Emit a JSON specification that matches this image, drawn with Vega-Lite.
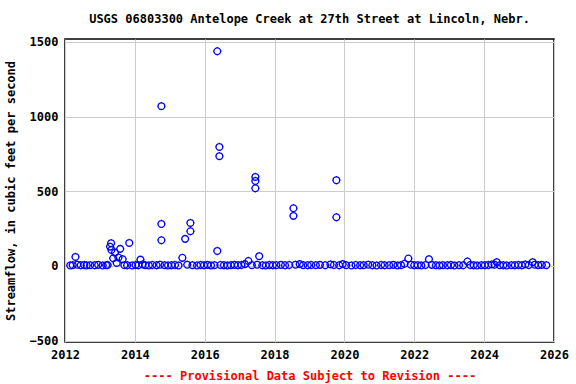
{
  "$schema": "https://vega.github.io/schema/vega-lite/v6.json",
  "width": 489,
  "height": 303,
  "autosize": {"type": "none"},
  "padding": {"left": 65, "top": 39, "right": 22, "bottom": 42},
  "background": "white",
  "title": {
    "text": "USGS 06803300 Antelope Creek at 27th Street at Lincoln, Nebr.",
    "font": "DejaVu Sans Mono",
    "fontSize": 12,
    "fontWeight": "bold",
    "color": "black",
    "anchor": "middle",
    "offset": 10
  },
  "config": {
    "view": {"stroke": "black", "strokeWidth": 1.5},
    "axis": {
      "labelFont": "DejaVu Sans Mono",
      "labelFontSize": 12,
      "labelFontWeight": "bold",
      "labelColor": "black",
      "titleFont": "DejaVu Sans Mono",
      "titleFontSize": 12,
      "titleFontWeight": "bold",
      "gridColor": "#cccccc",
      "gridWidth": 1,
      "gridOpacity": 1,
      "domain": false,
      "ticks": false,
      "labelFlush": false,
      "labelOverlap": false
    }
  },
  "data": {
    "values": [
      {"year": 2012.15, "flow": 3}, {"year": 2012.22, "flow": 5}, {"year": 2012.30, "flow": 60}, {"year": 2012.35, "flow": 8},
      {"year": 2012.45, "flow": 4}, {"year": 2012.55, "flow": 6}, {"year": 2012.62, "flow": 3}, {"year": 2012.72, "flow": 5},
      {"year": 2012.85, "flow": 4}, {"year": 2012.95, "flow": 7}, {"year": 2013.08, "flow": 3}, {"year": 2013.18, "flow": 5},
      {"year": 2013.22, "flow": 6}, {"year": 2013.29, "flow": 129}, {"year": 2013.32, "flow": 152}, {"year": 2013.33, "flow": 107},
      {"year": 2013.38, "flow": 51}, {"year": 2013.43, "flow": 89}, {"year": 2013.48, "flow": 20}, {"year": 2013.53, "flow": 56},
      {"year": 2013.58, "flow": 114}, {"year": 2013.65, "flow": 45}, {"year": 2013.70, "flow": 5}, {"year": 2013.78, "flow": 4},
      {"year": 2013.84, "flow": 154}, {"year": 2013.92, "flow": 3}, {"year": 2014.02, "flow": 6}, {"year": 2014.10, "flow": 4},
      {"year": 2014.16, "flow": 42}, {"year": 2014.22, "flow": 10}, {"year": 2014.30, "flow": 5}, {"year": 2014.40, "flow": 3},
      {"year": 2014.50, "flow": 6}, {"year": 2014.62, "flow": 4}, {"year": 2014.72, "flow": 8}, {"year": 2014.76, "flow": 1070},
      {"year": 2014.76, "flow": 281}, {"year": 2014.76, "flow": 172}, {"year": 2014.85, "flow": 5}, {"year": 2014.95, "flow": 3},
      {"year": 2015.05, "flow": 4}, {"year": 2015.15, "flow": 6}, {"year": 2015.25, "flow": 3}, {"year": 2015.36, "flow": 54},
      {"year": 2015.44, "flow": 181}, {"year": 2015.50, "flow": 8}, {"year": 2015.59, "flow": 288}, {"year": 2015.59, "flow": 232},
      {"year": 2015.65, "flow": 5}, {"year": 2015.78, "flow": 3}, {"year": 2015.88, "flow": 6}, {"year": 2015.98, "flow": 4},
      {"year": 2016.08, "flow": 7}, {"year": 2016.18, "flow": 3}, {"year": 2016.28, "flow": 5}, {"year": 2016.36, "flow": 1438},
      {"year": 2016.36, "flow": 100}, {"year": 2016.42, "flow": 797}, {"year": 2016.42, "flow": 735}, {"year": 2016.45, "flow": 6},
      {"year": 2016.55, "flow": 4}, {"year": 2016.65, "flow": 3}, {"year": 2016.75, "flow": 5}, {"year": 2016.85, "flow": 7},
      {"year": 2016.95, "flow": 4}, {"year": 2017.05, "flow": 6}, {"year": 2017.15, "flow": 12}, {"year": 2017.25, "flow": 33},
      {"year": 2017.35, "flow": 5}, {"year": 2017.45, "flow": 596}, {"year": 2017.45, "flow": 569}, {"year": 2017.45, "flow": 520},
      {"year": 2017.50, "flow": 8}, {"year": 2017.56, "flow": 65}, {"year": 2017.65, "flow": 4}, {"year": 2017.75, "flow": 3},
      {"year": 2017.85, "flow": 6}, {"year": 2017.95, "flow": 4}, {"year": 2018.05, "flow": 5}, {"year": 2018.18, "flow": 7},
      {"year": 2018.30, "flow": 4}, {"year": 2018.42, "flow": 6}, {"year": 2018.54, "flow": 386}, {"year": 2018.54, "flow": 335},
      {"year": 2018.60, "flow": 8}, {"year": 2018.72, "flow": 12}, {"year": 2018.82, "flow": 5}, {"year": 2018.95, "flow": 4},
      {"year": 2019.05, "flow": 6}, {"year": 2019.18, "flow": 5}, {"year": 2019.30, "flow": 7}, {"year": 2019.45, "flow": 4},
      {"year": 2019.60, "flow": 10}, {"year": 2019.70, "flow": 6}, {"year": 2019.77, "flow": 574}, {"year": 2019.77, "flow": 326},
      {"year": 2019.85, "flow": 4}, {"year": 2019.95, "flow": 12}, {"year": 2020.05, "flow": 5}, {"year": 2020.20, "flow": 3},
      {"year": 2020.32, "flow": 6}, {"year": 2020.45, "flow": 4}, {"year": 2020.55, "flow": 5}, {"year": 2020.68, "flow": 8},
      {"year": 2020.80, "flow": 4}, {"year": 2020.92, "flow": 3}, {"year": 2021.05, "flow": 6}, {"year": 2021.15, "flow": 4},
      {"year": 2021.28, "flow": 5}, {"year": 2021.40, "flow": 7}, {"year": 2021.52, "flow": 3}, {"year": 2021.62, "flow": 5},
      {"year": 2021.72, "flow": 14}, {"year": 2021.83, "flow": 49}, {"year": 2021.90, "flow": 8}, {"year": 2022.00, "flow": 4},
      {"year": 2022.10, "flow": 5}, {"year": 2022.20, "flow": 3}, {"year": 2022.32, "flow": 6}, {"year": 2022.42, "flow": 45},
      {"year": 2022.50, "flow": 7}, {"year": 2022.62, "flow": 4}, {"year": 2022.72, "flow": 3}, {"year": 2022.82, "flow": 5},
      {"year": 2022.95, "flow": 4}, {"year": 2023.05, "flow": 6}, {"year": 2023.15, "flow": 3}, {"year": 2023.28, "flow": 5},
      {"year": 2023.40, "flow": 4}, {"year": 2023.52, "flow": 29}, {"year": 2023.60, "flow": 6}, {"year": 2023.70, "flow": 4},
      {"year": 2023.80, "flow": 3}, {"year": 2023.92, "flow": 5}, {"year": 2024.02, "flow": 4}, {"year": 2024.12, "flow": 6},
      {"year": 2024.22, "flow": 10}, {"year": 2024.30, "flow": 8}, {"year": 2024.36, "flow": 25}, {"year": 2024.45, "flow": 5},
      {"year": 2024.55, "flow": 4}, {"year": 2024.65, "flow": 3}, {"year": 2024.78, "flow": 5}, {"year": 2024.88, "flow": 4},
      {"year": 2024.98, "flow": 6}, {"year": 2025.08, "flow": 4}, {"year": 2025.18, "flow": 10}, {"year": 2025.28, "flow": 6},
      {"year": 2025.39, "flow": 25}, {"year": 2025.45, "flow": 8}, {"year": 2025.55, "flow": 5}, {"year": 2025.65, "flow": 7},
      {"year": 2025.78, "flow": 5}
    ]
  },
  "mark": {
    "type": "point",
    "shape": "M0.8,0A0.8,0.8 0 1,1 -0.8,0A0.8,0.8 0 1,1 0.8,0ZM1,0H0.8M-1,0H-0.8M0,1V0.8M0,-1V-0.8",
    "filled": false,
    "stroke": "#0000ff",
    "strokeWidth": 1.3,
    "size": 70,
    "opacity": 1
  },
  "encoding": {
    "x": {
      "field": "year",
      "type": "quantitative",
      "scale": {"domain": [2012, 2026], "nice": false, "zero": false},
      "axis": {
        "values": [2012, 2014, 2016, 2018, 2020, 2022, 2024, 2026],
        "format": "d",
        "labelPadding": 7,
        "title": "---- Provisional Data Subject to Revision ----",
        "titleColor": "#ff0000",
        "titlePadding": 10
      }
    },
    "y": {
      "field": "flow",
      "type": "quantitative",
      "scale": {"domain": [-510, 1520], "nice": false, "zero": false},
      "axis": {
        "values": [-500, 0, 500, 1000, 1500],
        "format": "d",
        "labelPadding": 7,
        "title": "Streamflow, in cubic feet per second",
        "titleColor": "black",
        "titlePadding": 12
      }
    }
  }
}
